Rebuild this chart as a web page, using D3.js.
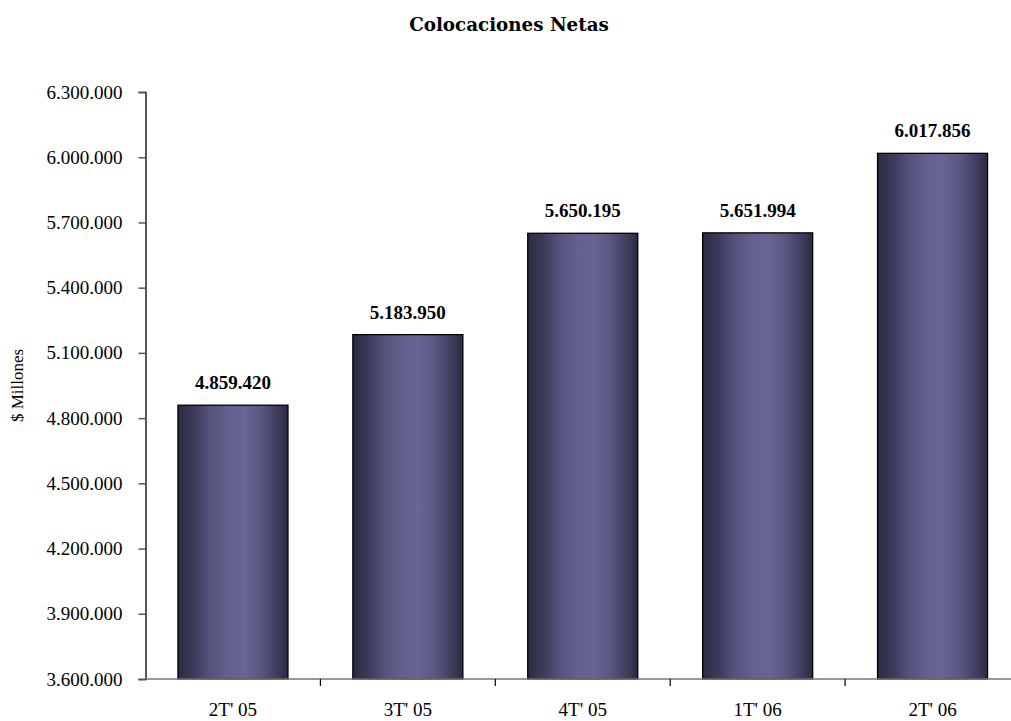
<!DOCTYPE html>
<html>
<head>
<meta charset="utf-8">
<script src="https://cdn.jsdelivr.net/npm/d3@7"></script>
<style>
  html, body { margin: 0; padding: 0; background: #fff; }
  svg { display: block; }
</style>
</head>
<body>
<svg id="chart" width="1011" height="721"></svg>
<script>
// Quarterly net loans, in millions of pesos
const categories = ["2T' 05", "3T' 05", "4T' 05", "1T' 06", "2T' 06"];
const values = [4859420, 5183950, 5650195, 5651994, 6017856];
const valueLabels = ["4.859.420", "5.183.950", "5.650.195", "5.651.994", "6.017.856"];
const yTicks = [3600000, 3900000, 4200000, 4500000, 4800000, 5100000, 5400000, 5700000, 6000000, 6300000];

const svg = d3.select("#chart");
const plotLeft = 145.5, plotRight = 1020, plotTop = 92, plotBottom = 679;
const serif = "'Liberation Serif', 'Times New Roman', serif";

// Thousands separated by dots
const fmt = d => d3.format(",")(d).replace(/,/g, ".");

const x = d3.scaleBand()
  .domain(categories)
  .range([plotLeft, plotRight])
  .paddingInner(0.371)
  .paddingOuter(0.1855);

const y = d3.scaleLinear()
  .domain([3600000, 6300000])
  .range([plotBottom, plotTop]);

// Horizontal shading of the columns
const grad = svg.append("defs").append("linearGradient")
  .attr("id", "barShade")
  .attr("x1", "0%").attr("x2", "100%").attr("y1", "0%").attr("y2", "0%");
[
  [0, "#2b2a42"], [0.14, "#3b3a5a"], [0.3, "#55547e"], [0.45, "#62618f"],
  [0.6, "#666594"], [0.74, "#5a5983"], [0.87, "#444366"], [1, "#2b2a42"]
].forEach(([o, c]) => grad.append("stop").attr("offset", o).attr("stop-color", c));

// Title
svg.append("text")
  .attr("x", 509).attr("y", 31)
  .attr("text-anchor", "middle")
  .attr("font-family", "'DejaVu Serif', serif")
  .attr("font-weight", "bold")
  .attr("font-size", 18.3)
  .text("Colocaciones Netas");

// Bars
svg.append("g").selectAll("rect")
  .data(values)
  .join("rect")
  .attr("x", (d, i) => x(categories[i]))
  .attr("y", d => y(d))
  .attr("width", x.bandwidth())
  .attr("height", d => y(3600000) - y(d))
  .attr("fill", "url(#barShade)")
  .attr("stroke", "#000")
  .attr("stroke-width", 1.3);

// Value labels
svg.append("g").selectAll("text")
  .data(values)
  .join("text")
  .attr("x", (d, i) => x(categories[i]) + x.bandwidth() / 2)
  .attr("y", d => y(d) - 16)
  .attr("text-anchor", "middle")
  .attr("font-family", serif)
  .attr("font-weight", "bold")
  .attr("font-size", 19)
  .text((d, i) => valueLabels[i]);

// Y axis
const yAxis = svg.append("g")
  .attr("transform", `translate(${plotLeft},0)`)
  .call(d3.axisLeft(y).tickValues(yTicks).tickFormat(fmt).tickSize(7).tickPadding(16));
yAxis.select(".domain").attr("stroke", "#000").attr("stroke-width", 1.3);
yAxis.selectAll(".tick line").attr("stroke", "#555").attr("stroke-width", 1.5);
yAxis.selectAll(".tick text")
  .attr("font-family", serif)
  .attr("font-size", 19)
  .attr("fill", "#000");

// X axis line
svg.append("line")
  .attr("x1", plotLeft).attr("x2", 1011)
  .attr("y1", plotBottom).attr("y2", plotBottom)
  .attr("stroke", "#777").attr("stroke-width", 1.5);

// Tick marks between categories
const step = x.step();
const bounds = categories.slice(1).map(c => x(c) - step * x.paddingInner() / 2);
svg.append("g").selectAll("line")
  .data(bounds)
  .join("line")
  .attr("x1", d => d).attr("x2", d => d)
  .attr("y1", plotBottom).attr("y2", plotBottom + 7)
  .attr("stroke", "#000").attr("stroke-width", 1.2);

// Category labels
svg.append("g").selectAll("text")
  .data(categories)
  .join("text")
  .attr("x", d => x(d) + x.bandwidth() / 2)
  .attr("y", 716)
  .attr("text-anchor", "middle")
  .attr("font-family", serif)
  .attr("font-size", 19)
  .text(d => d);

// Y axis title
svg.append("text")
  .attr("transform", `translate(23,${(plotTop + plotBottom) / 2}) rotate(-90)`)
  .attr("text-anchor", "middle")
  .attr("font-family", serif)
  .attr("font-size", 17)
  .text("$ Millones");
</script>
</body>
</html>
